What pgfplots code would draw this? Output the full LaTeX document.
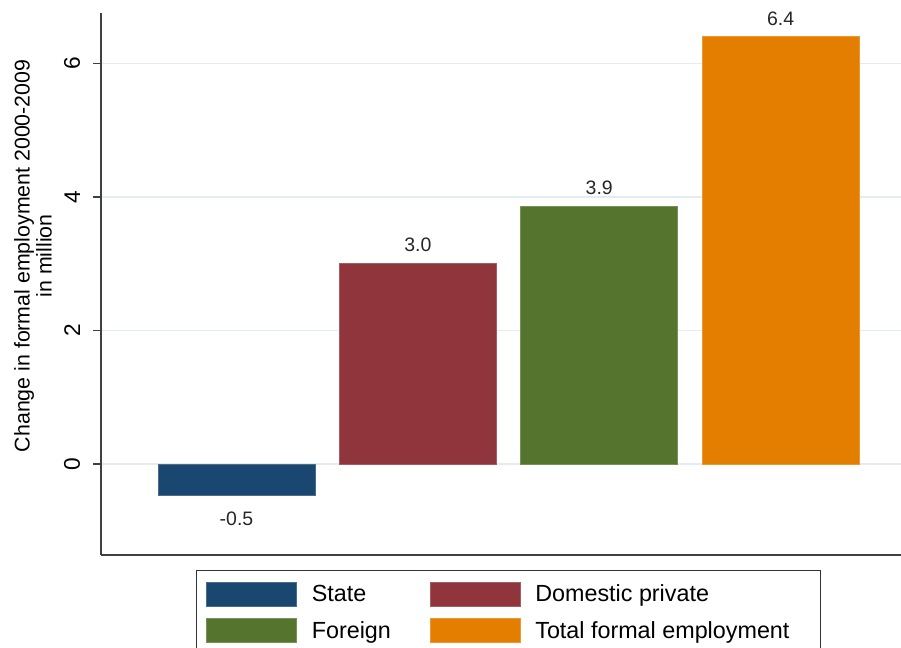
\documentclass[border=0pt]{standalone}
\usepackage{fontspec}
\setmainfont{Liberation Sans}
\usepackage{pgfplots}
\pgfplotsset{compat=1.18}

\definecolor{cState}{HTML}{1A476F}
\definecolor{cDom}{HTML}{90353B}
\definecolor{cFor}{HTML}{55752F}
\definecolor{cTot}{HTML}{E37E00}
\definecolor{gridc}{HTML}{E3ECF0}

\begin{document}
\begin{tikzpicture}
  \begin{axis}[
    at={(75.75pt,69.75pt)}, anchor=south west,
    scale only axis,
    width=600pt, height=406.5pt,
    ybar, bar width=117.75pt, bar shift=0pt,
    xmin=-0.747, xmax=3.664,
    ymin=-1.363, ymax=6.757,
    axis x line*=bottom, axis y line*=left,
    axis line style={draw=black!75, line width=1.1pt, -},
    xtick=\empty,
    ytick={0,2,4,6},
    tick align=outside,
    major tick length=6pt,
    ytick style={draw=black!75, line width=0.9pt},
    ymajorgrids=true,
    grid style={draw=gridc, line width=1.1pt},
    /pgf/number format/assume math mode=true,
    yticklabel style={rotate=90, anchor=south, font=\fontsize{17}{20}\selectfont,
      inner xsep=2pt, inner ysep=9.5pt},
    ylabel={Change in formal employment 2000-2009\\in million},
    ylabel style={align=center, font=\fontsize{16}{16.5}\selectfont,
      at={(axis description cs:-0.085,0.552)}, anchor=center},
    nodes near coords,
    point meta=explicit symbolic,
    nodes near coords style={font=\fontsize{14.6}{16}\selectfont, text=black!85,
      inner sep=4pt, yshift=4pt},
    legend columns=2,
    legend cell align=left,
    legend style={
      at={(axis description cs:0.119,-0.0277)}, anchor=north west,
      draw=black!80, line width=0.8pt,
      font=\fontsize{17.5}{19}\selectfont,
      inner xsep=7pt, inner ysep=8.5pt,
      row sep=8.5pt,
      /tikz/every odd column/.append style={column sep=9pt},
      /tikz/every even column/.append style={column sep=27pt},
    },
    legend image code/.code={
      \fill[#1] (0pt,-9pt) rectangle (67.5pt,9pt);
    },
  ]
    \addplot[fill=cState, draw=cState!80!white,
      nodes near coords style={anchor=north, yshift=-12pt}]
      coordinates {(0,-0.47) [-0.5]};
    \addlegendentry{State}
    \addplot[fill=cDom, draw=cDom!80!white]
      coordinates {(1,3.01) [3.0]};
    \addlegendentry{Domestic private}
    \addplot[fill=cFor, draw=cFor!80!white]
      coordinates {(2,3.865) [3.9]};
    \addlegendentry{Foreign}
    \addplot[fill=cTot, draw=cTot!80!white]
      coordinates {(3,6.41) [6.4]};
    \addlegendentry{Total formal employment\hspace*{14pt}}
  \end{axis}
  \pgfresetboundingbox
  \path[use as bounding box] (0,0) rectangle (675.75pt,486pt);
\end{tikzpicture}
\end{document}
